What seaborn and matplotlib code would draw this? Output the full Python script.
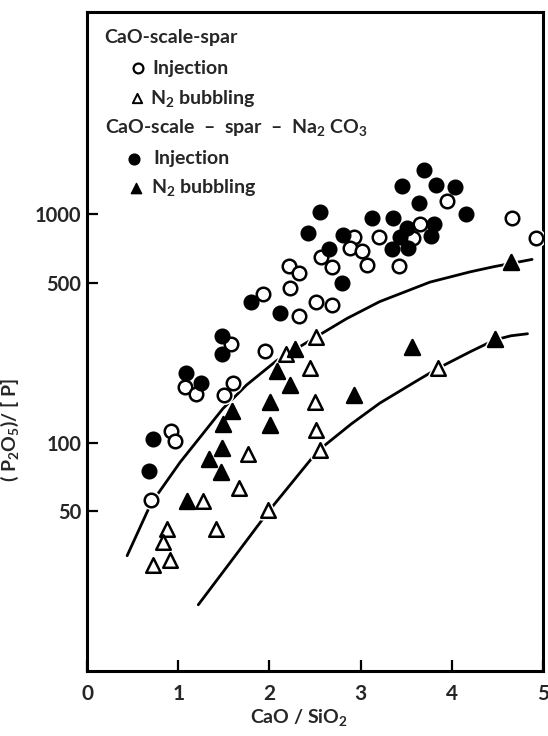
import numpy as np
import pandas as pd
import matplotlib
matplotlib.use("Agg")
import matplotlib.pyplot as plt
import seaborn as sns

# CaO-scale-spar, injection (open circles)
spar_inj_x = [3.95, 4.66, 4.92, 3.65, 2.93, 3.20, 3.58, 2.57, 2.88, 3.02, 2.69, 3.07, 3.42,
              2.21, 2.32, 2.23, 2.51, 2.69, 2.33, 1.93, 1.58, 1.95, 1.07, 1.19, 1.60, 1.50,
              0.92, 0.96, 0.70]
spar_inj_y = [1150, 965, 785, 905, 800, 800, 790, 648, 710, 690, 590, 598, 594,
              594, 556, 478, 415, 400, 359, 446, 270, 253, 176, 164, 183, 162,
              112, 102, 56]

# CaO-scale-spar, N2 bubbling (open triangles)
spar_n2_x = [2.51, 2.18, 2.45, 2.50, 2.51, 2.55, 1.77, 1.67, 1.27, 1.99, 1.41, 0.88, 0.83,
             0.91, 0.72, 3.85]
spar_n2_y = [289, 245, 213, 151, 114, 92.5, 89.5, 63.5, 55.5, 50.5, 42, 41.8, 36.8,
             30.6, 29, 212]

# CaO-scale-spar-Na2CO3, injection (filled circles)
soda_inj_x = [3.69, 3.45, 3.83, 4.04, 3.64, 2.55, 4.16, 3.12, 3.35, 2.42, 2.81, 3.51, 3.43,
              3.80, 3.77, 2.65, 3.34, 3.52, 2.80, 1.80, 2.12, 1.48, 1.48, 1.09, 1.25, 0.72,
              0.68]
soda_inj_y = [1560, 1333, 1350, 1320, 1127, 1025, 1006, 965, 965, 828, 810, 870, 797,
              908, 807, 708, 704, 715, 503, 415, 370, 293, 245, 202, 182, 104,
              75]

# CaO-scale-spar-Na2CO3, N2 bubbling (filled triangles)
soda_n2_x = [2.28, 2.08, 2.23, 2.93, 2.01, 2.01, 1.59, 1.49, 1.48, 1.34, 1.47, 1.10, 3.56,
             4.47, 4.65]
soda_n2_y = [257, 207, 179, 161, 150, 120, 138, 121, 95, 85, 74.5, 55.5, 262,
             285, 620]

# hand drawn trend curves
upper_x = [0.44, 0.70, 1.02, 1.49, 1.75, 2.08, 2.52, 2.85, 3.21, 3.76, 4.20, 4.46, 4.88]
upper_y = [32, 54, 82, 141, 179, 229, 292, 350, 415, 505, 560, 590, 635]
lower_x = [1.22, 1.60, 1.99, 2.53, 2.90, 3.21, 3.60, 3.85, 4.20, 4.47, 4.65, 4.83]
lower_y = [19.5, 31, 50, 92, 121, 149, 185, 212, 250, 282, 294, 300]

xticks = [0, 1, 2, 3, 4, 5]
yticks = [50, 100, 500, 1000]

sns.set_theme(style="white")
plt.rcParams["font.family"] = ["Lato", "DejaVu Sans"]
plt.rcParams["font.weight"] = "bold"
plt.rcParams["mathtext.fontset"] = "custom"
plt.rcParams["mathtext.rm"] = "Lato:bold"
plt.rcParams["mathtext.it"] = "Lato:bold"
plt.rcParams["mathtext.bf"] = "Lato:bold"

fig = plt.figure(figsize=(5.48, 7.36), dpi=100)
ax = fig.add_axes([87 / 548, 65 / 736, 456 / 548, 659 / 736])

# curves
for cx, cy in [(upper_x, upper_y), (lower_x, lower_y)]:
    sns.lineplot(x=cx, y=cy, ax=ax, color="black", lw=2.0, sort=False,
                 estimator=None, zorder=2)

# white halos so curves break around the points
groups = [
    (spar_inj_x, spar_inj_y, "o", "white", 95),
    (spar_n2_x, spar_n2_y, "^", "white", 110),
    (soda_inj_x, soda_inj_y, "o", "black", 95),
    (soda_n2_x, soda_n2_y, "^", "black", 115),
]
for gx, gy, m, fc, s in groups:
    sns.scatterplot(x=gx, y=gy, ax=ax, marker=m, color="white", edgecolor="white",
                    linewidth=4, s=s, zorder=3)
for gx, gy, m, fc, s in groups:
    sns.scatterplot(x=gx, y=gy, ax=ax, marker=m, color=fc, edgecolor="black",
                    linewidth=1.8, s=s, zorder=4)

ax.set_yscale("log")
ax.set_xlim(0, 5)
ax.set_ylim(10, 7700)
ax.set_xticks(xticks)
ax.set_xticklabels([str(t) for t in xticks])
ax.set_yticks(yticks)
ax.set_yticklabels([str(t) for t in yticks])
ax.minorticks_off()
ax.tick_params(axis="both", direction="in", length=8, width=1.6, color="black")
ax.tick_params(axis="x", labelsize=15, pad=9, bottom=True)
ax.tick_params(axis="y", labelsize=14.5, pad=4, left=True)
for sp in ax.spines.values():
    sp.set_color("black")
    sp.set_linewidth(2.2)

ax.set_xlabel("CaO / SiO$_2$", fontsize=14, fontweight="bold")
ax.xaxis.set_label_coords(0.465, -0.055)
ax.set_ylabel("( P$_2$O$_5$)/ [ P]", fontsize=14, fontweight="bold")
ax.yaxis.set_label_coords(-0.145, 0.366)

# legend block
tk = dict(transform=ax.transAxes, fontsize=14, fontweight="bold", va="center", ha="left")
ax.text(0.037, 0.962, "CaO-scale-spar", **tk)
ax.text(0.143, 0.915, "Injection", **tk)
ax.text(0.138, 0.869, "N$_2$ bubbling", **tk)
ax.text(0.039, 0.824, "CaO-scale  –  spar  –  Na$_2$ CO$_3$", **tk)
ax.text(0.146, 0.777, "Injection", **tk)
ax.text(0.140, 0.733, "N$_2$ bubbling", **tk)
ax.scatter([0.112], [0.915], transform=ax.transAxes, marker="o", s=50,
           facecolor="white", edgecolor="black", linewidth=1.6)
ax.scatter([0.110], [0.869], transform=ax.transAxes, marker="^", s=45,
           facecolor="white", edgecolor="black", linewidth=1.4)
ax.scatter([0.104], [0.777], transform=ax.transAxes, marker="o", s=60,
           facecolor="black", edgecolor="black", linewidth=1.0)
ax.scatter([0.107], [0.733], transform=ax.transAxes, marker="^", s=55,
           facecolor="black", edgecolor="black", linewidth=1.0)

fig.savefig("out.png", dpi=100)
